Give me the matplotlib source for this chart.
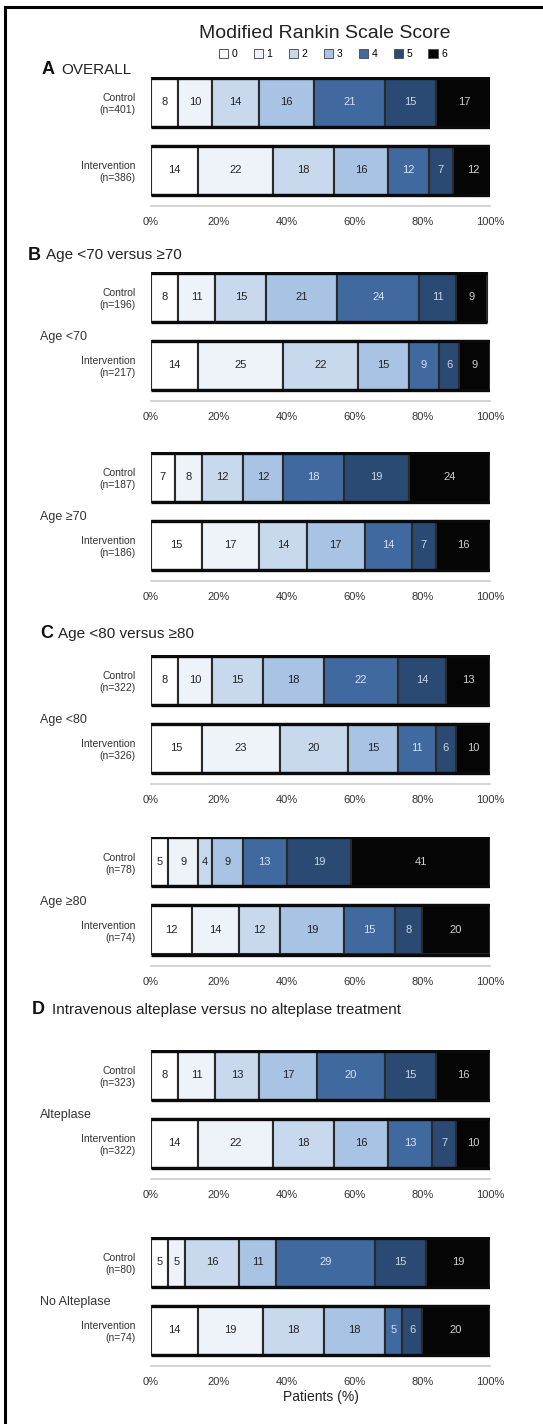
import matplotlib
matplotlib.use("Agg")
import matplotlib.pyplot as plt
from matplotlib.patches import Patch
from matplotlib.lines import Line2D
import numpy as np

plt.rcParams['font.family'] = ['Liberation Sans', 'DejaVu Sans']

# ---- data: percentage of patients per modified Rankin Scale score (0..6) ----
mrs_scores = ["0", "1", "2", "3", "4", "5", "6"]
row_names = ["Control", "Intervention"]

overall_ctrl = [8, 10, 14, 16, 21, 15, 17]
overall_int = [14, 22, 18, 16, 12, 7, 12]

age_lt70_ctrl = [8, 11, 15, 21, 24, 11, 9]
age_lt70_int = [14, 25, 22, 15, 9, 6, 9]
age_ge70_ctrl = [7, 8, 12, 12, 18, 19, 24]
age_ge70_int = [15, 17, 14, 17, 14, 7, 16]

age_lt80_ctrl = [8, 10, 15, 18, 22, 14, 13]
age_lt80_int = [15, 23, 20, 15, 11, 6, 10]
age_ge80_ctrl = [5, 9, 4, 9, 13, 19, 41]
age_ge80_int = [12, 14, 12, 19, 15, 8, 20]

alteplase_ctrl = [8, 11, 13, 17, 20, 15, 16]
alteplase_int = [14, 22, 18, 16, 13, 7, 10]
no_alteplase_ctrl = [5, 5, 16, 11, 29, 15, 19]
no_alteplase_int = [14, 19, 18, 18, 5, 6, 20]

n_labels = {
    "overall": ["(n=401)", "(n=386)"],
    "lt70": ["(n=196)", "(n=217)"],
    "ge70": ["(n=187)", "(n=186)"],
    "lt80": ["(n=322)", "(n=326)"],
    "ge80": ["(n=78)", "(n=74)"],
    "alt": ["(n=323)", "(n=322)"],
    "noalt": ["(n=80)", "(n=74)"],
}

x_ticks = [0, 20, 40, 60, 80, 100]
x_tick_labels = ["0%", "20%", "40%", "60%", "80%", "100%"]

# ---- styling ----
seg_colors = ["#ffffff", "#eef3fa", "#c8d9ee", "#a9c3e4", "#40699f", "#2a4a73", "#050505"]
txt_colors = ["#222222", "#222222", "#222222", "#222222", "#d6e2f1", "#c9d6e6", "#cfcfcf"]

W, H = 543, 1424
fig = plt.figure(figsize=(W / 100, H / 100), dpi=100)
fig.patch.set_facecolor("white")


def fx(px):
    return px / W


def fy(py):
    return 1 - py / H


# frame along top and left edges
fig.add_artist(Line2D([fx(5), fx(543)], [fy(7), fy(7)], color="black", lw=2.2,
                      transform=fig.transFigure))
fig.add_artist(Line2D([fx(5), fx(5)], [fy(7), fy(1424)], color="black", lw=2.2,
                      transform=fig.transFigure))

# title and legend
fig.text(fx(325), fy(33), "Modified Rankin Scale Score", ha="center", va="center",
         fontsize=14, color="#222222")
handles = [Patch(facecolor=c, edgecolor="#555555", linewidth=0.7) for c in seg_colors]
fig.legend(handles, mrs_scores, loc="center", bbox_to_anchor=(fx(333), fy(54)),
           ncol=7, frameon=False, fontsize=7.5, handlelength=0.9, handleheight=0.9,
           handletextpad=0.35, columnspacing=1.55)

AX_LEFT, AX_RIGHT = 151, 490
SPACING = 68.0
BAR_H = 49.0
ABOVE = 25.0
BELOW = 36.0


def draw_pair(top_px, ctrl, intv, nlab, group_label=None):
    height_px = ABOVE + SPACING + BELOW
    ax = fig.add_axes([fx(AX_LEFT), fy(top_px + height_px),
                       fx(AX_RIGHT) - fx(AX_LEFT), height_px / H])
    rows = [ctrl, intv]
    half = BAR_H / SPACING / 2
    for yi, vals in enumerate(rows):
        vals = np.asarray(vals, dtype=float)
        lefts = np.concatenate([[0], np.cumsum(vals)[:-1]])
        ax.barh([yi] * len(vals), vals, left=lefts, height=BAR_H / SPACING,
                color=seg_colors, edgecolor="#2a2a2a", linewidth=1.5, zorder=3)
        # heavier rule along the top and bottom of each stacked bar
        ax.hlines([yi - half, yi + half], 0, vals.sum(), color="#0a0a0a",
                  linewidth=2.4, zorder=4)
        for v, l, tc in zip(vals, lefts, txt_colors):
            ax.text(l + v / 2, yi, f"{int(v)}", ha="center", va="center",
                    fontsize=8, color=tc, zorder=5)
    ax.set_xlim(0, 100)
    ax.set_ylim(1 + BELOW / SPACING, -ABOVE / SPACING)
    for s in ["top", "left", "right"]:
        ax.spines[s].set_visible(False)
    ax.spines["bottom"].set_color("#cccccc")
    ax.spines["bottom"].set_linewidth(1.2)
    ax.set_xticks(x_ticks)
    ax.set_xticklabels(x_tick_labels, fontsize=8, color="#333333")
    ax.tick_params(axis="x", length=0, pad=8)
    ax.set_yticks([0, 1])
    ax.set_yticklabels([f"{row_names[0]}\n{nlab[0]}", f"{row_names[1]}\n{nlab[1]}"],
                       fontsize=7.5, color="#333333", linespacing=1.3)
    ax.tick_params(axis="y", length=0, pad=11)
    ax.patch.set_alpha(0)
    if group_label:
        fig.text(fx(40), fy(top_px + ABOVE + SPACING / 2 + 6), group_label,
                 ha="left", va="center", fontsize=9, color="#333333")
    return ax


def heading(x_px, gap_px, y_px, letter, text):
    fig.text(fx(x_px), fy(y_px), letter, ha="left", va="center",
             fontsize=13, fontweight="bold", color="#111111")
    fig.text(fx(x_px + gap_px), fy(y_px), text, ha="left", va="center",
             fontsize=11, color="#222222")


heading(42, 19, 70, "A", "OVERALL")
draw_pair(77, overall_ctrl, overall_int, n_labels["overall"])

heading(28, 18, 255, "B", "Age <70 versus \u226570")
draw_pair(272, age_lt70_ctrl, age_lt70_int, n_labels["lt70"], "Age <70")
draw_pair(452, age_ge70_ctrl, age_ge70_int, n_labels["ge70"], "Age \u226570")

heading(40, 18, 634, "C", "Age <80 versus \u226580")
draw_pair(655, age_lt80_ctrl, age_lt80_int, n_labels["lt80"], "Age <80")
draw_pair(837, age_ge80_ctrl, age_ge80_int, n_labels["ge80"], "Age \u226580")

heading(32, 20, 1010, "D", "Intravenous alteplase versus no alteplase treatment")
draw_pair(1050, alteplase_ctrl, alteplase_int, n_labels["alt"], "Alteplase")
ax_last = draw_pair(1237, no_alteplase_ctrl, no_alteplase_int, n_labels["noalt"],
                    "No Alteplase")
ax_last.set_xlabel("Patients (%)", fontsize=10, color="#222222", labelpad=2)

fig.savefig("out.png", dpi=100, facecolor="white")
